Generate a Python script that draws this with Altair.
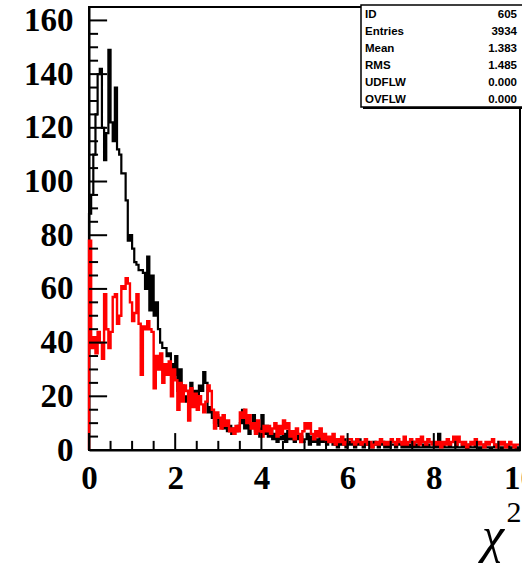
import altair as alt
import pandas as pd

BIN_W = 0.05

black_counts = [
    88, 95, 110, 125, 140, 142, 120, 108, 118, 149,
    122, 115, 135, 112, 110, 103, 103, 93, 78, 80,
    75, 70, 69, 67, 67, 66, 60, 72, 52, 65,
    50, 55, 45, 40, 38, 38, 35, 36, 32, 28,
    35, 22, 30, 24, 20, 18, 22, 25, 20, 22,
    20, 24, 22, 29, 25, 14, 16, 12, 10, 13,
    9, 11, 8, 10, 7, 9, 6, 8, 7, 9,
    10, 15, 8, 11, 6, 9, 13, 7, 8, 5,
    13, 6, 9, 5, 7, 4, 6, 3, 5, 4,
    6, 3, 7, 4, 5, 3, 6, 4, 5, 3,
    4, 6, 2, 5, 3, 4, 2, 5, 3, 4,
    2, 3, 4, 2, 3, 1, 3, 2, 4, 1,
    3, 2, 3, 1, 2, 4, 2, 1, 3, 2,
    2, 1, 3, 2, 1, 2, 3, 1, 2, 1,
    2, 2, 1, 3, 2, 1, 2, 1, 2, 1,
    3, 1, 2, 1, 1, 2, 1, 2, 1, 1,
    2, 1, 6, 1, 2, 1, 1, 2, 1, 1,
    2, 1, 1, 2, 1, 0, 2, 1, 1, 2,
    1, 0, 1, 2, 1, 1, 0, 1, 2, 1,
    1, 0, 1, 1, 2, 0, 1, 1, 0, 1,
]

red_counts = [
    78, 38, 42, 36, 44, 40, 34, 58, 45, 38,
    44, 57, 58, 47, 50, 61, 60, 64, 62, 55,
    48, 51, 58, 47, 28, 46, 45, 48, 45, 44,
    23, 35, 30, 36, 25, 32, 28, 33, 20, 30,
    26, 15, 25, 18, 24, 22, 11, 23, 16, 21,
    15, 20, 17, 14, 18, 24, 22, 15, 8, 14,
    12, 8, 13, 9, 11, 7, 8, 6, 9, 7,
    14, 12, 15, 10, 13, 8, 10, 6, 11, 7,
    5, 9, 7, 9, 6, 8, 10, 5, 9, 6,
    11, 8, 10, 5, 7, 4, 8, 6, 3, 7,
    10, 8, 10, 6, 4, 7, 5, 8, 4, 6,
    3, 5, 3, 6, 2, 4, 3, 5, 2, 3,
    4, 4, 3, 2, 4, 3, 2, 3, 4, 2,
    3, 1, 2, 3, 2, 4, 3, 2, 3, 2,
    4, 3, 2, 4, 3, 2, 5, 2, 3, 4,
    2, 3, 4, 2, 5, 3, 2, 4, 3, 2,
    3, 2, 3, 1, 3, 2, 4, 2, 3, 5,
    2, 5, 3, 2, 3, 1, 2, 3, 2, 4,
    2, 3, 2, 1, 3, 2, 3, 4, 2, 1,
    3, 2, 3, 1, 2, 3, 2, 1, 2, 2,
]

x_label_values = [0, 2, 4, 6, 8, 10]
y_label_values = [0, 20, 40, 60, 80, 100, 120, 140, 160]
x_tick_values = [i * 0.5 for i in range(21)]
y_tick_values = [i * 5 for i in range(34)]

stat_names = ["ID", "Entries", "Mean", "RMS", "UDFLW", "OVFLW"]
stat_values = ["605", "3934", "1.383", "1.485", "0.000", "0.000"]

X_DOMAIN = [0, 10]
Y_DOMAIN = [0, 165]


def steps(counts, name):
    rows = [{"x": 0.0, "y": 0, "o": 0, "s": name}]
    for i, c in enumerate(counts):
        rows.append({"x": i * BIN_W, "y": c, "o": i + 1, "s": name})
    rows.append({"x": len(counts) * BIN_W, "y": counts[-1], "o": len(counts) + 1, "s": name})
    return pd.DataFrame(rows)


xs = alt.Scale(domain=X_DOMAIN, nice=False, zero=False)
ys = alt.Scale(domain=Y_DOMAIN, nice=False, zero=False)

FONT = "Liberation Serif"

x_axis = alt.Axis(values=x_label_values, tickSize=0, labelFont=FONT, labelFontWeight="bold",
                  labelFontSize=33, labelColor="black", labelPadding=12, domainColor="black",
                  domainWidth=2, grid=False, title=None, format="d", labelFlush=False)
y_axis = alt.Axis(values=y_label_values, tickSize=0, labelFont=FONT, labelFontWeight="bold",
                  labelFontSize=33, labelColor="black", labelPadding=16, domainColor="black",
                  domainWidth=2, grid=False, title=None, format="d", labelFlush=False)

black_line = alt.Chart(steps(black_counts, "black")).mark_line(
    interpolate="step-after", color="black", strokeWidth=2.2
).encode(
    x=alt.X("x:Q", scale=xs, axis=x_axis),
    y=alt.Y("y:Q", scale=ys, axis=y_axis),
    order="o:Q",
)

red_line = alt.Chart(steps(red_counts, "red")).mark_line(
    interpolate="step-after", color="#ff0000", strokeWidth=2.4
).encode(
    x=alt.X("x:Q", scale=xs, axis=x_axis),
    y=alt.Y("y:Q", scale=ys, axis=y_axis),
    order="o:Q",
)

# inward ticks (ROOT style)
xt = pd.DataFrame({
    "x": x_tick_values,
    "y0": [0] * len(x_tick_values),
    "y1": [6.3 if abs(v % 2) < 1e-9 else 3.4 for v in x_tick_values],
})
yt = pd.DataFrame({
    "y": y_tick_values,
    "x0": [0] * len(y_tick_values),
    "x1": [0.42 if v % 20 == 0 else 0.21 for v in y_tick_values],
})
x_ticks = alt.Chart(xt).mark_rule(color="black", strokeWidth=2).encode(
    x=alt.X("x:Q", scale=xs, axis=x_axis),
    y=alt.Y("y0:Q", scale=ys, axis=y_axis),
    y2="y1:Q",
)
y_ticks = alt.Chart(yt).mark_rule(color="black", strokeWidth=2).encode(
    y=alt.Y("y:Q", scale=ys, axis=y_axis),
    x=alt.X("x0:Q", scale=xs, axis=x_axis),
    x2="x1:Q",
)

# stats box
box_shadow = alt.Chart(pd.DataFrame({"a": [0]})).mark_rect(color="black").encode(
    x=alt.value(274), x2=alt.value(436), y=alt.value(0), y2=alt.value(102)
)
box = alt.Chart(pd.DataFrame({"a": [0]})).mark_rect(
    fill="white", stroke="black", strokeWidth=1.5
).encode(
    x=alt.value(272), x2=alt.value(434), y=alt.value(-2), y2=alt.value(100)
)
stat_lab = alt.Chart(pd.DataFrame({"a": [0]})).mark_text(
    align="left", baseline="top", font="Liberation Sans", fontWeight="bold", fontSize=11.5,
    lineBreak="\n", lineHeight=17, color="black"
).encode(x=alt.value(276), y=alt.value(2), text=alt.value("\n".join(stat_names)))
stat_val = alt.Chart(pd.DataFrame({"a": [0]})).mark_text(
    align="right", baseline="top", font="Liberation Sans", fontWeight="bold", fontSize=11.5,
    lineBreak="\n", lineHeight=17, color="black"
).encode(x=alt.value(428), y=alt.value(2), text=alt.value("\n".join(stat_values)))

# axis title chi^2
chi = alt.Chart(pd.DataFrame({"a": [0]})).mark_text(
    align="center", baseline="alphabetic", font=FONT, fontSize=50, fontStyle="italic", color="black"
).encode(x=alt.value(404), y=alt.value(545), text=alt.value("χ"))
sq = alt.Chart(pd.DataFrame({"a": [0]})).mark_text(
    align="center", baseline="alphabetic", font=FONT, fontSize=30, color="black"
).encode(x=alt.value(425), y=alt.value(515), text=alt.value("2"))

chart = alt.layer(
    black_line, red_line, x_ticks, y_ticks, box_shadow, box, stat_lab, stat_val, chi, sq
).properties(
    width=431, height=443,
    padding={"left": 89, "top": 7, "right": 2, "bottom": 116},
    autosize=alt.AutoSizeParams(type="none"),
    background="white",
).configure_view(stroke="black", strokeWidth=2).configure_axis(grid=False)

chart.save("out.html", embed_options={"renderer": "svg", "actions": False})
